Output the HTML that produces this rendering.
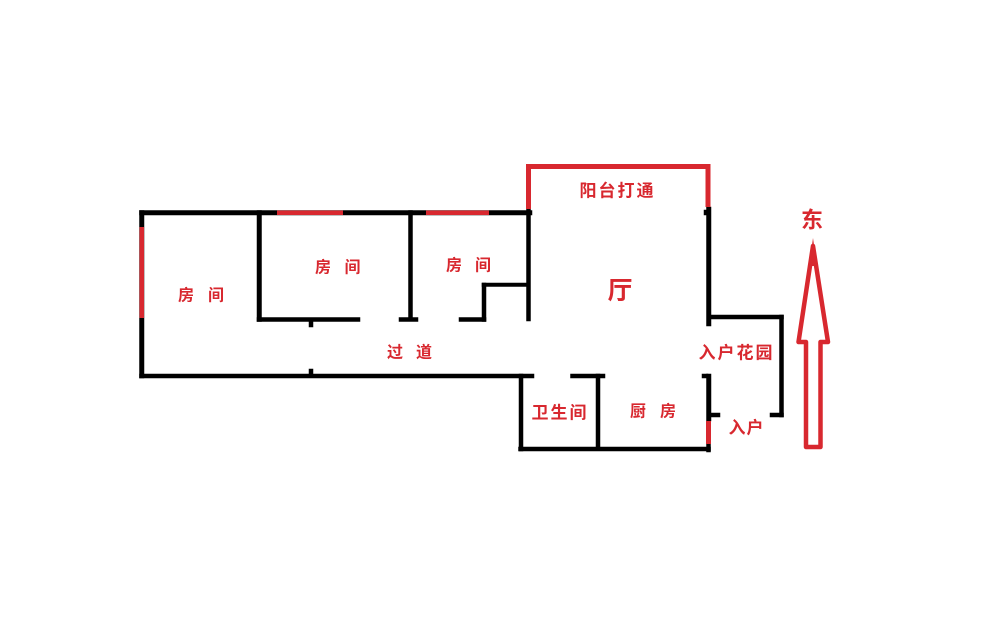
<!DOCTYPE html>
<html lang="zh">
<head>
<meta charset="utf-8">
<title>户型图</title>
<style>
html,body{margin:0;padding:0;background:#fff;}
svg{display:block;filter:blur(.35px);}
text{font-family:"Liberation Sans","Noto Sans CJK SC",sans-serif;fill:#d8282f;font-weight:700;text-anchor:middle;dominant-baseline:central;}
.s{font-size:16px;}
.m{font-size:17px;}
</style>
</head>
<body>
<svg width="1000" height="624" viewBox="0 0 1000 624" xmlns="http://www.w3.org/2000/svg">
<rect width="1000" height="624" fill="#fff"/>
<g fill="#000" stroke="#000" stroke-width=".5">
<rect x="139.500" y="210.500" width="392.500" height="4.500"/>
<rect x="139.500" y="210.500" width="4.500" height="167.500"/>
<rect x="139.500" y="374" width="394.500" height="4"/>
<rect x="257" y="210.500" width="4.500" height="111"/>
<rect x="257" y="317.500" width="103" height="4"/>
<rect x="309" y="321" width="4" height="6"/>
<rect x="309" y="369" width="4" height="6"/>
<rect x="408.500" y="210.500" width="4" height="110"/>
<rect x="399" y="317.500" width="19" height="4"/>
<rect x="526.500" y="208" width="4" height="113"/>
<rect x="482" y="283" width="46" height="3.500"/>
<rect x="482" y="283" width="4" height="38.500"/>
<rect x="459" y="317.500" width="27" height="4"/>
<rect x="706.500" y="207" width="4.500" height="119"/>
<rect x="704" y="210" width="4" height="5"/>
<rect x="708" y="315" width="75.500" height="4"/>
<rect x="779.500" y="315" width="4" height="102"/>
<rect x="770" y="413" width="13.500" height="4"/>
<rect x="706.500" y="374" width="4.500" height="47"/>
<rect x="702" y="374" width="6" height="4"/>
<rect x="708" y="413" width="12" height="4"/>
<rect x="706.500" y="444" width="4" height="8"/>
<rect x="518.500" y="447" width="192" height="4"/>
<rect x="519" y="374" width="4" height="77"/>
<rect x="570.500" y="374" width="34.500" height="4"/>
<rect x="596" y="374" width="4" height="76"/>
</g>
<g fill="#d8282f">
<rect x="139.500" y="227" width="4.500" height="91"/>
<rect x="277" y="210.500" width="66" height="4.500"/>
<rect x="426" y="210.500" width="63" height="4.500"/>
<rect x="706" y="421" width="5" height="23"/>
</g>
<path d="M528.500 209V166.500H708V207" fill="none" stroke="#d8282f" stroke-width="5"/>
<path d="M813 246 L798.500 342 H806 V447 H820.500 V342 H828 Z" fill="none" stroke="#d8282f" stroke-width="4.500" stroke-linejoin="round"/>
<path d="M813 238 L809 266 H817 Z" fill="#d8282f"/>
<text class="s" x="186" y="296">房</text><text class="s" x="216" y="296">间</text>
<text class="s" x="323" y="268">房</text><text class="s" x="352.500" y="268">间</text>
<text class="s" x="454" y="266">房</text><text class="s" x="483" y="266">间</text>
<text class="s" x="395" y="353">过</text><text class="s" x="424" y="353">道</text>
<text class="m" x="588" y="191">阳</text><text class="m" x="607" y="191">台</text><text class="m" x="626" y="191">打</text><text class="m" x="645" y="191">通</text>
<text x="620" y="291" style="font-size:25px">厅</text>
<text class="m" x="540" y="413">卫</text><text class="m" x="559" y="413">生</text><text class="m" x="578" y="413">间</text>
<text class="s" x="638" y="412">厨</text><text class="s" x="668" y="412">房</text>
<text class="m" x="707" y="353">入</text><text class="m" x="726" y="353">户</text><text class="m" x="745" y="353">花</text><text class="m" x="764" y="353">园</text>
<text class="m" x="737" y="428">入</text><text class="m" x="755" y="428">户</text>
<text x="812" y="220" style="font-size:22px">东</text>
</svg>
</body>
</html>
